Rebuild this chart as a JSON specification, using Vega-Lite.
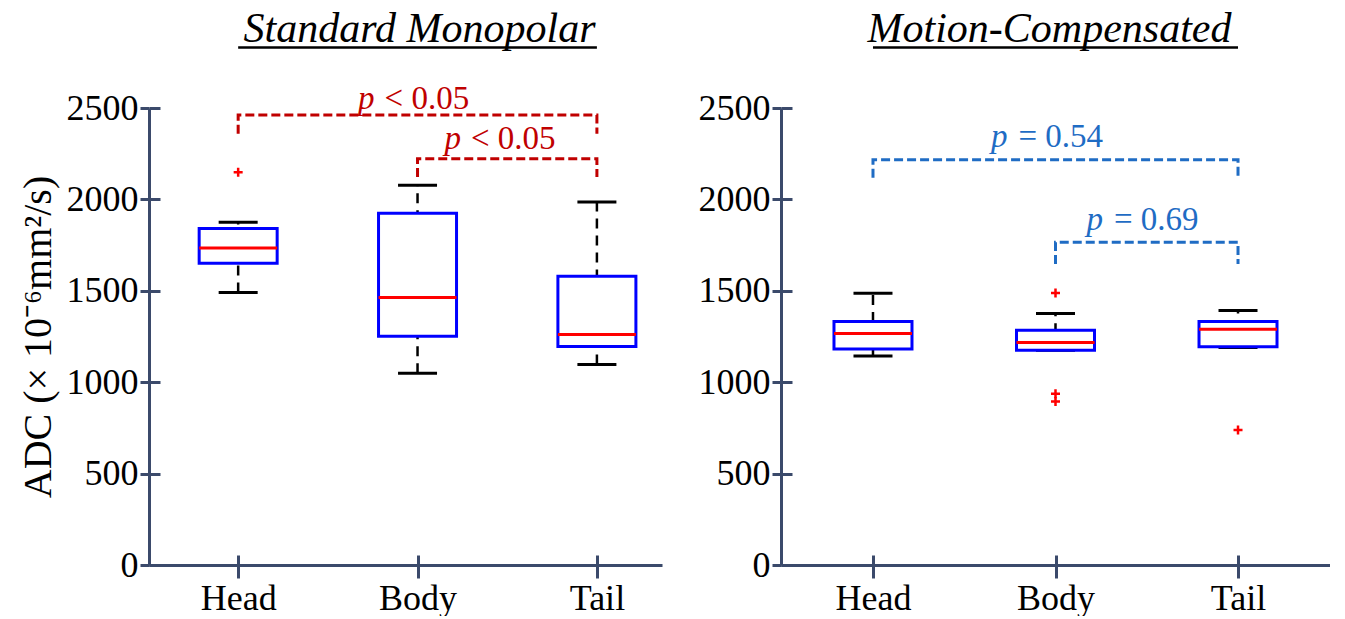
{
  "$schema": "https://vega.github.io/schema/vega-lite/v6.json",
  "background": "white",
  "padding": {"left": 18, "top": 8, "right": 0, "bottom": 0},
  "spacing": 36,
  "config": {"view": {"stroke": null}},
  "datasets": {
    "boxes": [
      {"panel": "left", "region": "Head", "lower": 1491, "q1": 1651, "median": 1734, "q3": 1841, "upper": 1875},
      {"panel": "left", "region": "Body", "lower": 1049, "q1": 1252, "median": 1464, "q3": 1924, "upper": 2077},
      {"panel": "left", "region": "Tail", "lower": 1097, "q1": 1195, "median": 1261, "q3": 1579, "upper": 1986},
      {"panel": "right", "region": "Head", "lower": 1143, "q1": 1181, "median": 1266, "q3": 1332, "upper": 1487},
      {"panel": "right", "region": "Body", "lower": 1175, "q1": 1175, "median": 1217, "q3": 1284, "upper": 1376},
      {"panel": "right", "region": "Tail", "lower": 1190, "q1": 1194, "median": 1290, "q3": 1332, "upper": 1392}
    ],
    "outliers": [
      {"panel": "left", "region": "Head", "value": 2148},
      {"panel": "right", "region": "Body", "value": 1488},
      {"panel": "right", "region": "Body", "value": 937},
      {"panel": "right", "region": "Body", "value": 895},
      {"panel": "right", "region": "Tail", "value": 738}
    ],
    "brackets": [
      {"panel": "left", "bracket": "a", "region": "Head", "value": 2359, "ord": 0},
      {"panel": "left", "bracket": "a", "region": "Head", "value": 2462, "ord": 1},
      {"panel": "left", "bracket": "a", "region": "Tail", "value": 2462, "ord": 2},
      {"panel": "left", "bracket": "a", "region": "Tail", "value": 2359, "ord": 3},
      {"panel": "left", "bracket": "b", "region": "Body", "value": 2123, "ord": 0},
      {"panel": "left", "bracket": "b", "region": "Body", "value": 2223, "ord": 1},
      {"panel": "left", "bracket": "b", "region": "Tail", "value": 2223, "ord": 2},
      {"panel": "left", "bracket": "b", "region": "Tail", "value": 2123, "ord": 3},
      {"panel": "right", "bracket": "c", "region": "Head", "value": 2119, "ord": 0},
      {"panel": "right", "bracket": "c", "region": "Head", "value": 2217, "ord": 1},
      {"panel": "right", "bracket": "c", "region": "Tail", "value": 2217, "ord": 2},
      {"panel": "right", "bracket": "c", "region": "Tail", "value": 2119, "ord": 3},
      {"panel": "right", "bracket": "d", "region": "Body", "value": 1647, "ord": 0},
      {"panel": "right", "bracket": "d", "region": "Body", "value": 1766, "ord": 1},
      {"panel": "right", "bracket": "d", "region": "Tail", "value": 1766, "ord": 2},
      {"panel": "right", "bracket": "d", "region": "Tail", "value": 1647, "ord": 3}
    ]
  },
  "hconcat": [
    {
      "width": 513,
      "height": 457,
      "resolve": {"axis": {"x": "independent", "y": "independent"}},
      "layer": [
        {
          "data": {"name": "boxes"},
          "transform": [{"filter": "datum.panel === 'left'"}],
          "mark": {"type": "rule", "color": "black", "strokeWidth": 2.5, "strokeDash": [10, 7]},
          "encoding": {
            "x": {"field": "region", "type": "nominal",
              "scale": {"type": "point", "domain": ["Head", "Body", "Tail"], "padding": 0.43, "align": 0.578},
              "axis": {"orient": "bottom", "title": null, "labelAngle": 0, "tickSize": 13, "tickWidth": 3, "tickColor": "#3b4a6b", "domainColor": "#3b4a6b", "domainWidth": 3, "labelFont": "Liberation Serif", "labelFontSize": 36, "labelColor": "black", "labelPadding": 3, "grid": false}},
            "y": {"field": "lower", "type": "quantitative", "scale": {"domain": [0, 2500], "nice": false},
              "axis": {"orient": "left", "values": [0, 500, 1000, 1500, 2000, 2500], "format": "d", "tickSize": 9, "tickWidth": 3, "tickColor": "#3b4a6b", "domainColor": "#3b4a6b", "domainWidth": 3, "labelFont": "Liberation Serif", "labelFontSize": 36, "labelColor": "black", "labelPadding": 2, "grid": false,
                "title": "ADC (× 10⁻⁶mm²/s)", "titleFont": "Liberation Serif", "titleFontSize": 40, "titleFontWeight": "normal", "titleColor": "black", "titlePadding": 8}},
            "y2": {"field": "upper"}
          }
        },
        {
          "data": {"name": "boxes"},
          "transform": [{"filter": "datum.panel === 'left'"}],
          "mark": {"type": "tick", "color": "black", "size": 39, "thickness": 3, "opacity": 1},
          "encoding": {
            "x": {"field": "region", "type": "nominal",
              "axis": {"orient": "bottom", "title": null, "labels": false, "domainOpacity": 0, "tickSize": -10, "tickWidth": 3, "tickColor": "#3b4a6b", "grid": false}},
            "y": {"field": "lower", "type": "quantitative",
              "axis": {"orient": "left", "values": [0, 500, 1000, 1500, 2000, 2500], "title": null, "labels": false, "domainOpacity": 0, "tickSize": -11, "tickWidth": 3, "tickColor": "#3b4a6b", "grid": false}}
          }
        },
        {
          "data": {"name": "boxes"},
          "transform": [{"filter": "datum.panel === 'left'"}],
          "mark": {"type": "tick", "color": "black", "size": 39, "thickness": 3, "opacity": 1},
          "encoding": {
            "x": {"field": "region", "type": "nominal", "axis": null},
            "y": {"field": "upper", "type": "quantitative", "axis": null}
          }
        },
        {
          "data": {"name": "boxes"},
          "transform": [{"filter": "datum.panel === 'left'"}],
          "mark": {"type": "bar", "size": 78, "fill": "white", "stroke": "#0000ff", "strokeWidth": 3},
          "encoding": {
            "x": {"field": "region", "type": "nominal", "axis": null},
            "y": {"field": "q1", "type": "quantitative", "axis": null},
            "y2": {"field": "q3"}
          }
        },
        {
          "data": {"name": "boxes"},
          "transform": [{"filter": "datum.panel === 'left'"}],
          "mark": {"type": "tick", "color": "#ff0000", "size": 78, "thickness": 3, "opacity": 1},
          "encoding": {
            "x": {"field": "region", "type": "nominal", "axis": null},
            "y": {"field": "median", "type": "quantitative", "axis": null}
          }
        },
        {
          "data": {"name": "outliers"},
          "transform": [{"filter": "datum.panel === 'left'"}],
          "mark": {"type": "point", "shape": "M-1,0H1M0,-1V1", "size": 81, "filled": false, "color": "#ff0000", "strokeWidth": 2.5, "opacity": 1},
          "encoding": {
            "x": {"field": "region", "type": "nominal", "axis": null},
            "y": {"field": "value", "type": "quantitative", "axis": null}
          }
        },
        {
          "data": {"name": "brackets"},
          "transform": [{"filter": "datum.panel === 'left'"}],
          "mark": {"type": "line", "color": "#c00000", "strokeWidth": 3, "strokeDash": [9, 4]},
          "encoding": {
            "x": {"field": "region", "type": "nominal", "axis": null},
            "y": {"field": "value", "type": "quantitative", "axis": null},
            "detail": {"field": "bracket"},
            "order": {"field": "ord", "type": "quantitative"}
          }
        },
        {
          "data": {"values": [{"region": "Body", "value": 2492, "txt": "p"}]},
          "mark": {"type": "text", "font": "Liberation Serif", "fontSize": 33, "fontStyle": "italic", "align": "right", "baseline": "alphabetic", "dx": -43, "color": "#c00000"},
          "encoding": {
            "x": {"field": "region", "type": "nominal", "axis": null},
            "y": {"field": "value", "type": "quantitative", "axis": null},
            "text": {"field": "txt"}
          }
        },
        {
          "data": {"values": [{"region": "Body", "value": 2492, "txt": "< 0.05"}]},
          "mark": {"type": "text", "font": "Liberation Serif", "fontSize": 33, "align": "left", "baseline": "alphabetic", "dx": -33, "color": "#c00000"},
          "encoding": {
            "x": {"field": "region", "type": "nominal", "axis": null},
            "y": {"field": "value", "type": "quantitative", "axis": null},
            "text": {"field": "txt"}
          }
        },
        {
          "data": {"values": [{"region": "Tail", "value": 2274, "txt": "p"}]},
          "mark": {"type": "text", "font": "Liberation Serif", "fontSize": 33, "fontStyle": "italic", "align": "right", "baseline": "alphabetic", "dx": -136, "color": "#c00000"},
          "encoding": {
            "x": {"field": "region", "type": "nominal", "axis": null},
            "y": {"field": "value", "type": "quantitative", "axis": null},
            "text": {"field": "txt"}
          }
        },
        {
          "data": {"values": [{"region": "Tail", "value": 2274, "txt": "< 0.05"}]},
          "mark": {"type": "text", "font": "Liberation Serif", "fontSize": 33, "align": "left", "baseline": "alphabetic", "dx": -126, "color": "#c00000"},
          "encoding": {
            "x": {"field": "region", "type": "nominal", "axis": null},
            "y": {"field": "value", "type": "quantitative", "axis": null},
            "text": {"field": "txt"}
          }
        },
        {
          "data": {"values": [{"region": "Body", "value": 2860, "txt": "Standard Monopolar"}]},
          "mark": {"type": "text", "font": "Liberation Serif", "fontSize": 42, "fontStyle": "italic", "align": "center", "baseline": "alphabetic", "dx": 2, "color": "black"},
          "encoding": {
            "x": {"field": "region", "type": "nominal", "axis": null},
            "y": {"field": "value", "type": "quantitative", "axis": null},
            "text": {"field": "txt"}
          }
        },
        {
          "data": {"values": [{"from": "Head", "to": "Tail", "value": 2831}]},
          "mark": {"type": "rule", "color": "black", "strokeWidth": 2.5},
          "encoding": {
            "x": {"field": "from", "type": "nominal", "axis": null},
            "x2": {"field": "to"},
            "y": {"field": "value", "type": "quantitative", "axis": null}
          }
        }
      ]
    },
    {
      "width": 549,
      "height": 457,
      "resolve": {"axis": {"x": "independent", "y": "independent"}},
      "layer": [
        {
          "data": {"name": "boxes"},
          "transform": [{"filter": "datum.panel === 'right'"}],
          "mark": {"type": "rule", "color": "black", "strokeWidth": 2.5, "strokeDash": [10, 7]},
          "encoding": {
            "x": {"field": "region", "type": "nominal",
              "scale": {"type": "point", "domain": ["Head", "Body", "Tail"], "padding": 0.504, "align": 0.5},
              "axis": {"orient": "bottom", "title": null, "labelAngle": 0, "tickSize": 13, "tickWidth": 3, "tickColor": "#3b4a6b", "domainColor": "#3b4a6b", "domainWidth": 3, "labelFont": "Liberation Serif", "labelFontSize": 36, "labelColor": "black", "labelPadding": 3, "grid": false}},
            "y": {"field": "lower", "type": "quantitative", "scale": {"domain": [0, 2500], "nice": false},
              "axis": {"orient": "left", "values": [0, 500, 1000, 1500, 2000, 2500], "format": "d", "tickSize": 9, "tickWidth": 3, "tickColor": "#3b4a6b", "domainColor": "#3b4a6b", "domainWidth": 3, "labelFont": "Liberation Serif", "labelFontSize": 36, "labelColor": "black", "labelPadding": 2, "grid": false, "title": null}},
            "y2": {"field": "upper"}
          }
        },
        {
          "data": {"name": "boxes"},
          "transform": [{"filter": "datum.panel === 'right'"}],
          "mark": {"type": "tick", "color": "black", "size": 39, "thickness": 3, "opacity": 1},
          "encoding": {
            "x": {"field": "region", "type": "nominal",
              "axis": {"orient": "bottom", "title": null, "labels": false, "domainOpacity": 0, "tickSize": -10, "tickWidth": 3, "tickColor": "#3b4a6b", "grid": false}},
            "y": {"field": "lower", "type": "quantitative",
              "axis": {"orient": "left", "values": [0, 500, 1000, 1500, 2000, 2500], "title": null, "labels": false, "domainOpacity": 0, "tickSize": -11, "tickWidth": 3, "tickColor": "#3b4a6b", "grid": false}}
          }
        },
        {
          "data": {"name": "boxes"},
          "transform": [{"filter": "datum.panel === 'right'"}],
          "mark": {"type": "tick", "color": "black", "size": 39, "thickness": 3, "opacity": 1},
          "encoding": {
            "x": {"field": "region", "type": "nominal", "axis": null},
            "y": {"field": "upper", "type": "quantitative", "axis": null}
          }
        },
        {
          "data": {"name": "boxes"},
          "transform": [{"filter": "datum.panel === 'right'"}],
          "mark": {"type": "bar", "size": 78, "fill": "white", "stroke": "#0000ff", "strokeWidth": 3},
          "encoding": {
            "x": {"field": "region", "type": "nominal", "axis": null},
            "y": {"field": "q1", "type": "quantitative", "axis": null},
            "y2": {"field": "q3"}
          }
        },
        {
          "data": {"name": "boxes"},
          "transform": [{"filter": "datum.panel === 'right'"}],
          "mark": {"type": "tick", "color": "#ff0000", "size": 78, "thickness": 3, "opacity": 1},
          "encoding": {
            "x": {"field": "region", "type": "nominal", "axis": null},
            "y": {"field": "median", "type": "quantitative", "axis": null}
          }
        },
        {
          "data": {"name": "outliers"},
          "transform": [{"filter": "datum.panel === 'right'"}],
          "mark": {"type": "point", "shape": "M-1,0H1M0,-1V1", "size": 81, "filled": false, "color": "#ff0000", "strokeWidth": 2.5, "opacity": 1},
          "encoding": {
            "x": {"field": "region", "type": "nominal", "axis": null},
            "y": {"field": "value", "type": "quantitative", "axis": null}
          }
        },
        {
          "data": {"name": "brackets"},
          "transform": [{"filter": "datum.panel === 'right'"}],
          "mark": {"type": "line", "color": "#1f6cc4", "strokeWidth": 3, "strokeDash": [9, 4]},
          "encoding": {
            "x": {"field": "region", "type": "nominal", "axis": null},
            "y": {"field": "value", "type": "quantitative", "axis": null},
            "detail": {"field": "bracket"},
            "order": {"field": "ord", "type": "quantitative"}
          }
        },
        {
          "data": {"values": [{"region": "Body", "value": 2289, "txt": "p"}]},
          "mark": {"type": "text", "font": "Liberation Serif", "fontSize": 33, "fontStyle": "italic", "align": "right", "baseline": "alphabetic", "dx": -48, "color": "#1f6cc4"},
          "encoding": {
            "x": {"field": "region", "type": "nominal", "axis": null},
            "y": {"field": "value", "type": "quantitative", "axis": null},
            "text": {"field": "txt"}
          }
        },
        {
          "data": {"values": [{"region": "Body", "value": 2289, "txt": "= 0.54"}]},
          "mark": {"type": "text", "font": "Liberation Serif", "fontSize": 33, "align": "left", "baseline": "alphabetic", "dx": -37, "color": "#1f6cc4"},
          "encoding": {
            "x": {"field": "region", "type": "nominal", "axis": null},
            "y": {"field": "value", "type": "quantitative", "axis": null},
            "text": {"field": "txt"}
          }
        },
        {
          "data": {"values": [{"region": "Tail", "value": 1835, "txt": "p"}]},
          "mark": {"type": "text", "font": "Liberation Serif", "fontSize": 33, "fontStyle": "italic", "align": "right", "baseline": "alphabetic", "dx": -135, "color": "#1f6cc4"},
          "encoding": {
            "x": {"field": "region", "type": "nominal", "axis": null},
            "y": {"field": "value", "type": "quantitative", "axis": null},
            "text": {"field": "txt"}
          }
        },
        {
          "data": {"values": [{"region": "Tail", "value": 1835, "txt": "= 0.69"}]},
          "mark": {"type": "text", "font": "Liberation Serif", "fontSize": 33, "align": "left", "baseline": "alphabetic", "dx": -124, "color": "#1f6cc4"},
          "encoding": {
            "x": {"field": "region", "type": "nominal", "axis": null},
            "y": {"field": "value", "type": "quantitative", "axis": null},
            "text": {"field": "txt"}
          }
        },
        {
          "data": {"values": [{"region": "Body", "value": 2860, "txt": "Motion-Compensated"}]},
          "mark": {"type": "text", "font": "Liberation Serif", "fontSize": 42, "fontStyle": "italic", "align": "center", "baseline": "alphabetic", "dx": -6, "color": "black"},
          "encoding": {
            "x": {"field": "region", "type": "nominal", "axis": null},
            "y": {"field": "value", "type": "quantitative", "axis": null},
            "text": {"field": "txt"}
          }
        },
        {
          "data": {"values": [{"from": "Head", "to": "Tail", "value": 2831}]},
          "mark": {"type": "rule", "color": "black", "strokeWidth": 2.5},
          "encoding": {
            "x": {"field": "from", "type": "nominal", "axis": null},
            "x2": {"field": "to"},
            "y": {"field": "value", "type": "quantitative", "axis": null}
          }
        }
      ]
    }
  ]
}
